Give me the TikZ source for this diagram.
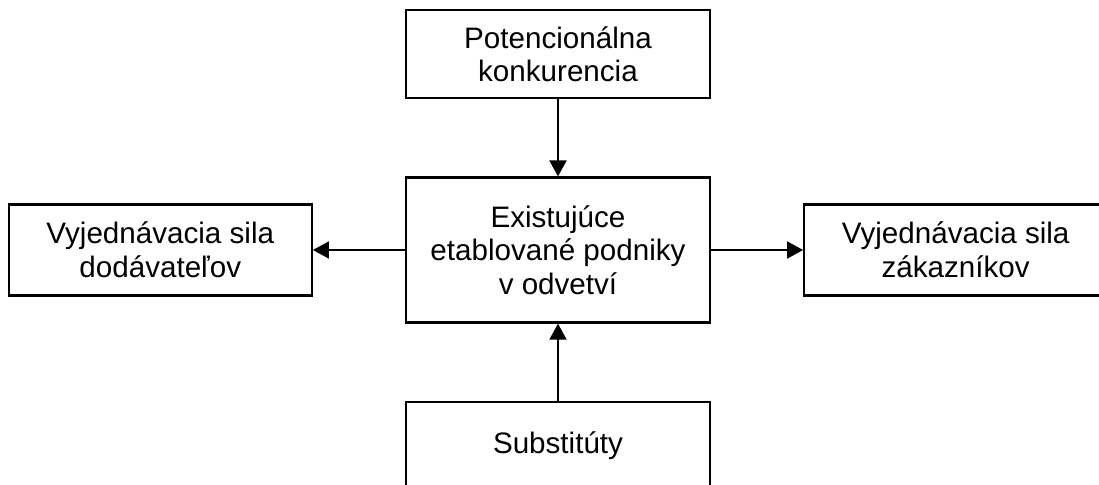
\documentclass[tikz,border=0pt]{standalone}
\usepackage{fontspec}
\setmainfont{Liberation Sans}
\usepackage{tikz}
\usetikzlibrary{arrows.meta,positioning}

\begin{document}
\begin{tikzpicture}[
  node distance=38.5pt and 46pt,
  force/.style={draw=black,line width=1.1pt,fill=white,minimum width=152pt,minimum height=44pt,align=center,inner sep=0pt,font=\fontsize{14.8}{16.8}\selectfont},
  arr/.style={-{Triangle[length=8pt,width=8.5pt]},line width=0.9pt,draw=black}
]
\useasboundingbox (0,0) rectangle (549.5pt,-242pt);
\node[force,minimum height=72.5pt] (firms) at (279pt,-125pt) {Existujúce\\etablované podniky\\v odvetví};
\node[force,above=of firms] (entrants) {Potencionálna\\konkurencia};
\node[force,left=of firms,minimum width=151.5pt,minimum height=45.5pt] (suppliers) {Vyjednávacia sila\\dodávateľov};
\node[force,right=of firms,minimum width=151.5pt,minimum height=45.5pt] (buyers) {Vyjednávacia sila\\zákazníkov};
\node[force,below=of firms] (subst) {Substitúty};
\draw[arr] (entrants)--(firms);
\draw[arr] (firms)--(suppliers);
\draw[arr] (firms)--(buyers);
\draw[arr] (subst)--(firms);
\end{tikzpicture}
\end{document}
